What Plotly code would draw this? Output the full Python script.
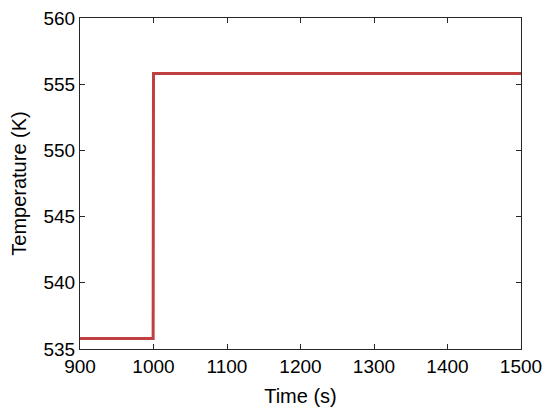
import plotly.graph_objects as go

time_s = [900, 999.5, 1000, 1500]
temperature_k = [535.8, 535.8, 555.8, 555.8]
x_ticks = [900, 1000, 1100, 1200, 1300, 1400, 1500]
y_ticks = [535, 540, 545, 550, 555, 560]

FONT = "Liberation Sans, Arial"
fig = go.Figure()
fig.add_trace(go.Scatter(x=time_s, y=temperature_k, mode="lines",
                         line=dict(color="rgb(192,64,64)", width=3), showlegend=False))

axis_common = dict(showline=True, linecolor="#262626", linewidth=1, mirror="ticks",
                   ticks="inside", ticklen=5, tickcolor="#262626", showgrid=False,
                   zeroline=False, automargin=False, ticklabeloverflow="allow",
                   tickfont=dict(family=FONT, size=19, color="#000"),
                   title_font=dict(family=FONT, size=20, color="#000"))

fig.update_xaxes(range=[900, 1500], tickvals=x_ticks, title_text="Time (s)", title_standoff=13, **axis_common)
fig.update_yaxes(range=[535, 560], tickvals=y_ticks, title_text="Temperature (K)", title_standoff=15, **axis_common)

fig.update_layout(width=542, height=408, margin=dict(l=72, r=29, t=10, b=67),
                  paper_bgcolor="white", plot_bgcolor="white")
fig.write_html("out.html")
